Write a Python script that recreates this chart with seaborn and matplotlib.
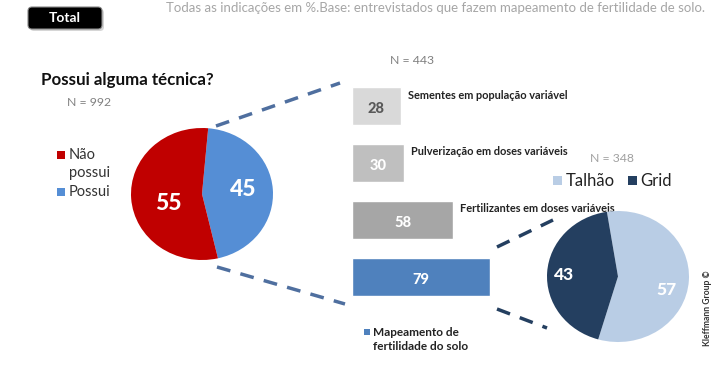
import matplotlib
matplotlib.use("Agg")
import matplotlib.pyplot as plt
import seaborn as sns
from matplotlib.patches import FancyBboxPatch, Rectangle
from matplotlib.lines import Line2D

sns.set_theme(style="white")
plt.rcParams['font.family'] = ['Lato', 'DejaVu Sans']

# data
left_labels = ["Possui", "Não possui"]
left_values = [45, 55]
left_colors = ["#558ED5", "#C00000"]

bar_labels = ["Sementes em população variável", "Pulverização em doses variáveis",
              "Fertilizantes em doses variáveis", "Mapeamento de fertilidade do solo"]
bar_values = [28, 30, 58, 79]
bar_colors = ["#D9D9D9", "#BFBFBF", "#A6A6A6", "#4F81BD"]
bar_text_colors = ["#595959", "white", "white", "white"]

right_labels = ["Talhão", "Grid"]
right_values = [57, 43]
right_colors = ["#B9CDE5", "#243F60"]

W, H = 720, 386
fig = plt.figure(figsize=(W / 100, H / 100), dpi=100)
fig.patch.set_facecolor("white")


def px_axes(x0, y0, x1, y1):
    return fig.add_axes([x0 / W, 1 - y1 / H, (x1 - x0) / W, (y1 - y0) / H])


# left pie
axl = px_axes(131, 128, 273, 260)
axl.pie(left_values, colors=left_colors, startangle=85, counterclock=False,
        wedgeprops=dict(linewidth=0))
axl.set_aspect("auto")
axl.set_xlim(-1, 1)
axl.set_ylim(-1, 1)
axl.axis("off")

# bars
axb = px_axes(352, 78, 352 + 174.7, 305.5)
sns.barplot(x=bar_values, y=bar_labels, hue=bar_labels, palette=bar_colors, saturation=1,
            legend=False, orient="h", width=0.67, ax=axb)
axb.set_xlim(0, 100)
axb.set_ylim(3.5, -0.5)
axb.axis("off")
for i, (v, lab) in enumerate(zip(bar_values, bar_labels)):
    axb.text(v / 2, i + 0.05, str(v), color=bar_text_colors[i], fontsize=10.5, fontweight=900,
             ha="center", va="center")
    if i < 3:
        axb.text(v + 4, i - 0.2, lab, color="#222222", fontsize=7.9, fontweight="bold",
                 ha="left", va="center")

# right pie
axr = px_axes(547, 211, 689, 342)
axr.pie(right_values, colors=right_colors, startangle=99, counterclock=False,
        wedgeprops=dict(linewidth=0))
axr.set_aspect("auto")
axr.set_xlim(-1, 1)
axr.set_ylim(-1, 1)
axr.axis("off")

# overlay in pixel coordinates (on top)
ov = fig.add_axes([0, 0, 1, 1], zorder=10)
ov.patch.set_alpha(0)
ov.set_xlim(0, W)
ov.set_ylim(H, 0)
ov.axis("off")

# Total box
ov.add_patch(FancyBboxPatch((30, 9), 74, 22, boxstyle="round,pad=0,rounding_size=4",
                            fc="#BBBBBB", ec="none", alpha=0.6))
ov.add_patch(FancyBboxPatch((28, 7), 74, 22, boxstyle="round,pad=0,rounding_size=4",
                            fc="black", ec="#888888", lw=0.8))
ov.text(65, 18, "Total", color="white", fontsize=10, fontweight="bold", ha="center", va="center")
ov.text(705, 8, "Todas as indicações em %.Base: entrevistados que fazem mapeamento de fertilidade de solo.",
        color="#A6A6A6", fontsize=9.5, ha="right", va="center")

ov.text(41, 80, "Possui alguma técnica?", fontsize=12.2, fontweight="bold", color="#111111",
        ha="left", va="center")
ov.text(67, 103, "N = 992", fontsize=8.8, color="#808080", ha="left", va="center")
ov.text(390, 61, "N = 443", fontsize=8.8, color="#808080", ha="left", va="center")
ov.text(590, 158, "N = 348", fontsize=8.8, color="#A0A0A0", ha="left", va="center")

# left legend
ov.add_patch(Rectangle((57, 151), 8, 8, fc=left_colors[1], ec="none"))
ov.text(69, 155, "Não", fontsize=10.5, color="#333333", va="center")
ov.text(69, 173, "possui", fontsize=10.5, color="#333333", va="center")
ov.add_patch(Rectangle((57, 188), 8, 8, fc=left_colors[0], ec="none"))
ov.text(69, 192, "Possui", fontsize=10.5, color="#333333", va="center")

# dashed connectors
ov.add_line(Line2D([216, 340], [126, 83], color="#4F6F9F", lw=2.5, ls=(0, (4, 3))))
ov.add_line(Line2D([217, 345], [267, 304], color="#4F6F9F", lw=2.5, ls=(0, (4, 3))))
ov.add_line(Line2D([497, 553], [247, 220], color="#243F60", lw=2.5, ls=(0, (4, 3))))
ov.add_line(Line2D([497, 547], [309, 328], color="#243F60", lw=2.5, ls=(0, (4, 3))))

# right legend
ov.add_patch(Rectangle((553, 176), 9, 9, fc=right_colors[0], ec="none"))
ov.text(566, 181, right_labels[0], fontsize=12, color="#222222", va="center")
ov.add_patch(Rectangle((628, 176), 9, 9, fc=right_colors[1], ec="none"))
ov.text(640, 181, right_labels[1], fontsize=12, color="#222222", va="center")

# bar legend for the blue bar
ov.add_patch(Rectangle((364, 329), 6, 6, fc=bar_colors[3], ec="none"))
ov.text(373, 332, "Mapeamento de", fontsize=8.5, fontweight="bold", color="#222222", va="center")
ov.text(373, 347, "fertilidade do solo", fontsize=8.5, fontweight="bold", color="#222222", va="center")

ov.text(707, 308, "Kleffmann Group ©", fontsize=6.2, fontweight="bold", color="#333333",
        rotation=90, ha="center", va="center")

# pie labels
ov.text(168, 204, str(left_values[1]), color="white", fontsize=16.5, fontweight=900,
        ha="center", va="center")
ov.text(243, 190, str(left_values[0]), color="white", fontsize=16.5, fontweight=900,
        ha="center", va="center")
ov.text(564, 275, str(right_values[1]), color="white", fontsize=12.5, fontweight=900,
        ha="center", va="center")
ov.text(666, 290, str(right_values[0]), color="white", fontsize=12.5, fontweight=900,
        ha="center", va="center")

fig.savefig("out.png", dpi=100, facecolor="white")
